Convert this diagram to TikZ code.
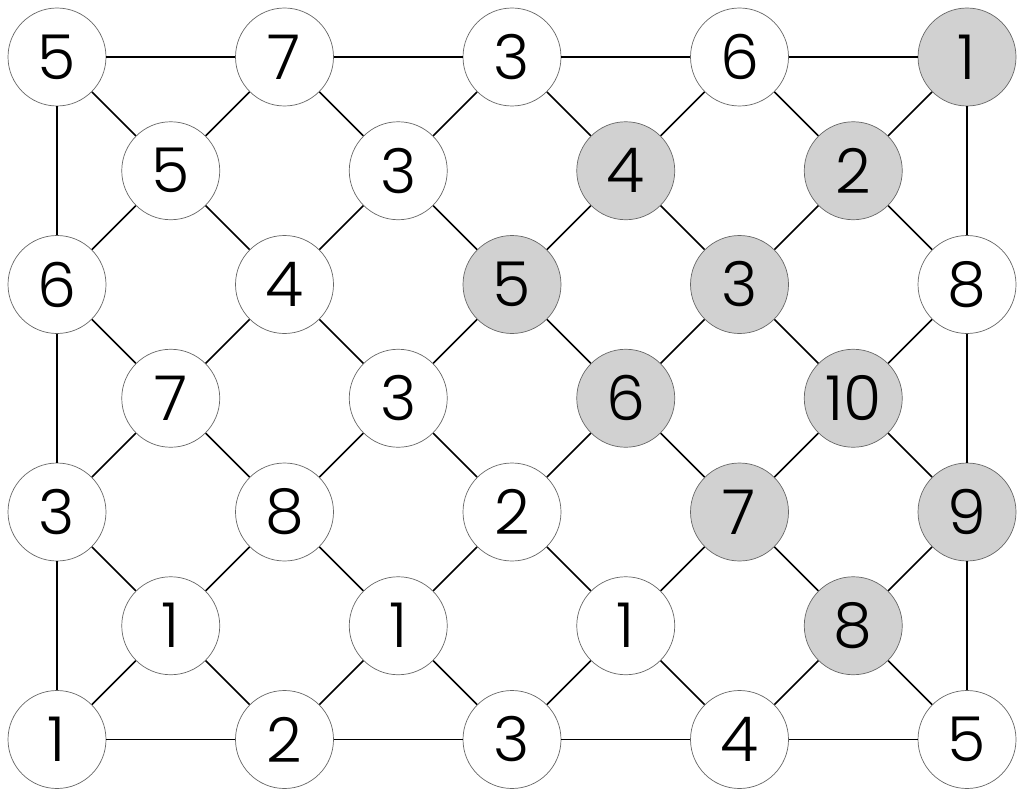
\documentclass[tikz,border=0pt]{standalone}
\usepackage{fontspec}
\setmainfont{Poppins}[UprightFont=* Light]
\begin{document}
\begin{tikzpicture}[x=1pt,y=1pt,
  cell/.style={circle,draw=black!60,line width=0.7pt,fill=white,minimum size=98pt,inner sep=0pt,font=\fontsize{62}{62}\selectfont},
  hl/.style={fill=black!18},
  edge/.style={line width=1.5pt}]
\useasboundingbox (0,0) rectangle (1024,-797);
% white nodes
\foreach \r/\c/\v in {0/0/5,0/2/7,0/4/3,0/6/6,
  1/1/5,1/3/3,
  2/0/6,2/2/4,2/8/8,
  3/1/7,3/3/3,
  4/0/3,4/2/8,4/4/2,
  5/1/1,5/3/1,5/5/1,
  6/0/1,6/2/2,6/4/3,6/6/4,6/8/5}
  \node[cell] (n\r-\c) at ({57+113.75*\c},{-57-113.75*\r}) {\v};
% gray nodes
\foreach \r/\c/\v in {0/8/1,1/5/4,1/7/2,2/4/5,2/6/3,3/5/6,3/7/10,4/6/7,4/8/9,5/7/8}
  \node[cell,hl] (n\r-\c) at ({57+113.75*\c},{-57-113.75*\r}) {\v};
% diagonal edges
\foreach \r/\c in {0/0,0/2,0/4,0/6,0/8,1/1,1/3,1/5,1/7,2/0,2/2,2/4,2/6,2/8,3/1,3/3,3/5,3/7,4/0,4/2,4/4,4/6,4/8,5/1,5/3,5/5,5/7}{
  \pgfmathtruncatemacro\rr{\r+1}
  \pgfmathtruncatemacro\cl{\c-1}
  \pgfmathtruncatemacro\cr{\c+1}
  \ifnum\c>0 \draw[edge] (n\r-\c) -- (n\rr-\cl); \fi
  \ifnum\c<8 \draw[edge] (n\r-\c) -- (n\rr-\cr); \fi
}
% border edges
\foreach \c in {0,2,4,6}{
  \pgfmathtruncatemacro\cn{\c+2}
  \draw[edge] (n0-\c) -- (n0-\cn);
  \draw[edge] (n6-\c) -- (n6-\cn);
}
\foreach \r in {0,2,4}{
  \pgfmathtruncatemacro\rn{\r+2}
  \draw[edge] (n\r-0) -- (n\rn-0);
  \draw[edge] (n\r-8) -- (n\rn-8);
}
\end{tikzpicture}
\end{document}
